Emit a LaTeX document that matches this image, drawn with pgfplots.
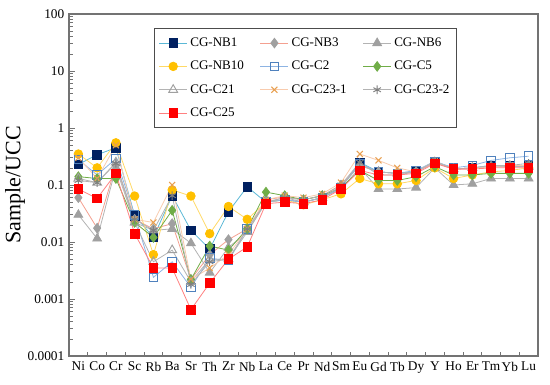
\documentclass[border=0pt]{standalone}
\usepackage{fontspec}
\setmainfont{Liberation Serif}
\usepackage{pgfplots}
\pgfplotsset{compat=1.18}
\usepackage{pgfplotstable}

\definecolor{cNBa}{HTML}{002060}
\definecolor{lNBa}{HTML}{5BB8D6}
\definecolor{cGray}{HTML}{A0A0A0}
\definecolor{lNBc}{HTML}{F4A090}
\definecolor{cNBt}{HTML}{FFC000}
\definecolor{lNBt}{HTML}{FFD966}
\definecolor{cCtwo}{HTML}{4F81BD}
\definecolor{lCtwo}{HTML}{8EB4E3}
\definecolor{cCfive}{HTML}{70AD47}
\definecolor{cCx}{HTML}{E8A050}
\definecolor{lCx}{HTML}{F8CBAD}
\definecolor{cCast}{HTML}{7F7F7F}
\definecolor{cRed}{HTML}{FF0000}
\definecolor{lRed}{HTML}{FF8080}

% columns: x, values (Ni Co Cr Sc Rb Ba Sr Th Zr Nb La Ce Pr Nd Sm Eu Gd Tb Dy Y Ho Er Tm Yb Lu)
\pgfplotstableread{
x NBa NBc NBf NBt Ctwo Cfive Ctwoone Cxone Cxtwo Cfivet
0  0.23   0.06   0.03   0.35   0.28   0.14   0.13   0.30   0.12   0.085
1  0.34   0.0175 0.0115 0.20   0.15   0.13   0.11   0.13   0.11   0.058
2  0.45   0.22   0.20   0.55   0.29   0.13   0.25   0.50   0.24   0.16
3  0.029  0.025  0.022  0.064  0.030  0.022  0.022  0.025  0.025  0.014
4  0.012  0.017  0.016  0.006  0.0024 0.012  0.0045 0.022  0.016  0.0035
5  0.065  0.021  0.017  0.082  0.0045 0.036  0.0072 0.10   0.065  0.0035
6  0.016  0.0022 0.0095 0.064  0.0016 0.0022 0.0020 0.0022 0.0018 0.00065
7  0.0075 0.006  0.0029 0.014  0.0052 0.0085 0.005  0.0035 0.0045 0.0019
8  0.034  0.011  0.008  0.042  0.0047 0.0072 0.005  0.006  0.005  0.005
9  0.093  0.017  0.015  0.025  0.017  0.017  0.015  0.017  0.017  0.0082
10 0.050  0.055  0.050  0.050  0.050  0.075  0.050  0.055  0.050  0.047
11 0.055  0.062  0.055  0.055  0.055  0.065  0.060  0.065  0.060  0.050
12 0.050  0.055  0.050  0.045  0.050  0.055  0.050  0.060  0.055  0.047
13 0.060  0.065  0.060  0.055  0.060  0.065  0.060  0.070  0.065  0.055
14 0.090  0.100  0.085  0.070  0.090  0.090  0.095  0.110  0.100  0.085
15 0.25   0.22   0.20   0.13   0.24   0.18   0.22   0.35   0.25   0.18
16 0.17   0.17   0.085  0.105  0.17   0.12   0.17   0.27   0.15   0.15
17 0.16   0.16   0.085  0.105  0.16   0.12   0.16   0.20   0.15   0.15
18 0.17   0.17   0.090  0.12   0.18   0.14   0.17   0.17   0.17   0.16
19 0.26   0.25   0.20   0.20   0.26   0.21   0.25   0.26   0.26   0.24
20 0.19   0.19   0.10   0.13   0.20   0.15   0.19   0.19   0.19   0.19
21 0.20   0.20   0.105  0.15   0.22   0.15   0.20   0.20   0.20   0.19
22 0.22   0.21   0.13   0.17   0.27   0.16   0.21   0.21   0.22   0.20
23 0.22   0.22   0.13   0.18   0.30   0.16   0.21   0.22   0.22   0.20
24 0.22   0.22   0.13   0.20   0.32   0.16   0.21   0.22   0.24   0.20
}\data

\begin{document}
\begin{tikzpicture}
\pgfresetboundingbox
\path[use as bounding box] (-51.75pt,-21.75pt) rectangle (360.75pt,267pt);
\begin{axis}[
  at={(0,0)}, anchor=south west,
  scale only axis, width=351.75pt, height=256.5pt,
  ymode=log, ymin=1e-4, ymax=100,
  xmin=-0.5, xmax=24.5,
  xtick={0,...,24},
  xticklabels={Ni,Co,Cr,Sc,Rb,Ba,Sr,Th,Zr,Nb,La,Ce,Pr,Nd,Sm,Eu,Gd,Tb,Dy,Y,Ho,Er,Tm,Yb,Lu},
  minor xtick={0.5,1.5,...,23.5},
  major x tick style={draw=none},
  major tick length=4.5pt, minor tick length=3pt,
  ytick={1e-4,1e-3,1e-2,1e-1,1,10,100},
  yticklabels={0.0001,0.001,0.01,0.1,1,10,100},
  minor ytick={2e-4,3e-4,4e-4,5e-4,6e-4,7e-4,8e-4,9e-4,
               2e-3,3e-3,4e-3,5e-3,6e-3,7e-3,8e-3,9e-3,
               2e-2,3e-2,4e-2,5e-2,6e-2,7e-2,8e-2,9e-2,
               0.2,0.3,0.4,0.5,0.6,0.7,0.8,0.9,
               2,3,4,5,6,7,8,9,20,30,40,50,60,70,80,90},
  tick align=inside,
  xtick pos=bottom, ytick pos=left,
  axis line style={draw=black!55, line width=0.8pt},
  tick style={draw=black!55, line width=0.5pt},
  ticklabel style={font=\fontsize{10}{12}\selectfont},
  /pgf/number format/assume math mode=true,
  xticklabel style={yshift=-1pt},
  ylabel={Sample/UCC},
  ylabel style={font=\fontsize{16.5}{19}\selectfont, yshift=-5pt},
  legend columns=3,
  legend cell align=left,
  legend style={at={(0.182,0.959)}, anchor=north west, draw=black!70, line width=0.6pt,
    font=\fontsize{9.8}{11.5}\selectfont, inner xsep=3pt, inner ysep=5pt,
    row sep=5.5pt,
    /tikz/every even column/.append style={column sep=10pt}},
  legend image code/.code={\draw[mark repeat=2,mark phase=2] plot coordinates {(0cm,0cm)(0.37cm,0cm)(0.74cm,0cm)};},
  every axis plot/.append style={line width=0.6pt, mark size=3.2pt},
]
\addplot[color=lNBa, mark=square*, mark options={draw=cNBa, fill=cNBa}] table[x=x,y=NBa]{\data};
\addlegendentry{CG-NB1}
\addplot[color=lNBc, mark=diamond*, mark options={draw=cGray, fill=cGray, mark size=3.6pt}] table[x=x,y=NBc]{\data};
\addlegendentry{CG-NB3}
\addplot[color=cGray!80, mark=triangle*, mark options={draw=cGray, fill=cGray, mark size=3.8pt}] table[x=x,y=NBf]{\data};
\addlegendentry{CG-NB6}
\addplot[color=lNBt, mark=*, mark options={draw=cNBt, fill=cNBt}] table[x=x,y=NBt]{\data};
\addlegendentry{CG-NB10}
\addplot[color=lCtwo, mark=square, mark options={draw=cCtwo, fill=white, line width=0.7pt}] table[x=x,y=Ctwo]{\data};
\addlegendentry{CG-C2}
\addplot[color=cCfive, mark=diamond*, mark options={draw=cCfive, fill=cCfive, mark size=3.6pt}] table[x=x,y=Cfive]{\data};
\addlegendentry{CG-C5}
\addplot[color=cGray!80, mark=triangle, mark options={draw=cGray, fill=white, mark size=3.8pt, line width=0.7pt}] table[x=x,y=Ctwoone]{\data};
\addlegendentry{CG-C21}
\addplot[color=lCx, mark=x, mark options={draw=cCx, line width=0.8pt}] table[x=x,y=Cxone]{\data};
\addlegendentry{CG-C23-1}
\addplot[color=cGray!80, mark=asterisk, mark options={draw=cCast, line width=0.7pt}] table[x=x,y=Cxtwo]{\data};
\addlegendentry{CG-C23-2}
\addplot[color=lRed, mark=square*, mark options={draw=cRed, fill=cRed}] table[x=x,y=Cfivet]{\data};
\addlegendentry{CG-C25}
\end{axis}
\end{tikzpicture}
\end{document}
